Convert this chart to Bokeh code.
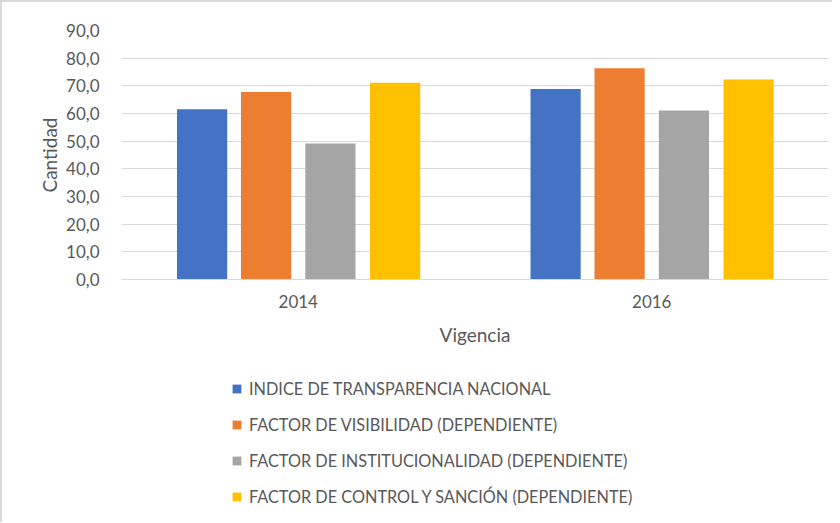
from bokeh.plotting import figure
from bokeh.layouts import column
from bokeh.models import ColumnDataSource, FactorRange, Legend, LegendItem, CustomJSTickFormatter
from bokeh.transform import dodge
from bokeh.embed import file_html
from bokeh.resources import INLINE

years = ["2014", "2016"]
series_names = [
    "INDICE DE TRANSPARENCIA NACIONAL",
    "FACTOR DE VISIBILIDAD (DEPENDIENTE)",
    "FACTOR DE INSTITUCIONALIDAD (DEPENDIENTE)",
    "FACTOR DE CONTROL Y SANCIÓN (DEPENDIENTE)",
]
indice = [61.5, 68.9]
visibilidad = [67.8, 76.4]
institucionalidad = [49.2, 61.1]
control = [71.1, 72.3]
colors = ["#4472C4", "#ED7D31", "#A5A5A5", "#FFC000"]
offsets = [-0.272, -0.091, 0.091, 0.274]

src = ColumnDataSource(data=dict(year=years, s0=indice, s1=visibilidad, s2=institucionalidad, s3=control))
keys = ["s0", "s1", "s2", "s3"]

FONT = "Lato"
TXT = "#595959"
BORDER = "2px solid #D9D9D9"

# ---- main chart ----
p = figure(x_range=FactorRange(*years), y_range=(0, 90), frame_width=705, frame_height=247,
           output_backend="svg", toolbar_location=None,
           min_border_left=119, min_border_right=6, min_border_top=28, min_border_bottom=85)
p.styles = {"border-left": BORDER, "border-top": BORDER}
p.outline_line_color = None

for i, key in enumerate(keys):
    p.vbar(x=dodge("year", offsets[i], range=p.x_range), top=key, width=0.142,
           source=src, fill_color=colors[i], line_color=None)

p.xgrid.grid_line_color = None
p.ygrid.grid_line_color = "#D9D9D9"
p.yaxis.ticker = list(range(0, 91, 10))
p.yaxis.formatter = CustomJSTickFormatter(code="return tick.toFixed(1).replace('.', ',');")
p.yaxis.axis_line_color = None
p.yaxis.major_tick_line_color = None
p.yaxis.minor_tick_line_color = None
p.yaxis.major_label_standoff = 16
p.yaxis.axis_label = "Cantidad"
p.yaxis.axis_label_standoff = 2

p.xaxis.axis_line_color = "#D9D9D9"
p.xaxis.major_tick_line_color = None
p.xaxis.minor_tick_line_color = None
p.xaxis.major_label_standoff = 9
p.xaxis.axis_label = "Vigencia"
p.xaxis.axis_label_standoff = 12

for ax in (p.xaxis, p.yaxis):
    ax.major_label_text_font = FONT
    ax.major_label_text_font_size = "17px"
    ax.major_label_text_color = TXT
    ax.axis_label_text_font = FONT
    ax.axis_label_text_font_size = "19px"
    ax.axis_label_text_font_style = "normal"
    ax.axis_label_text_color = TXT

# ---- legend panel (same series; zero-width bars outside its visible range) ----
lg = figure(x_range=FactorRange(*years), y_range=(1000, 1010), width=830, height=160,
            output_backend="svg", toolbar_location=None,
            x_axis_location=None, y_axis_location=None,
            min_border_left=0, min_border_right=0, min_border_top=0, min_border_bottom=0)
lg.styles = {"border-left": BORDER}
lg.outline_line_color = None
lg.grid.visible = False

leg_renderers = []
for i, key in enumerate(keys):
    r = lg.vbar(x=dodge("year", offsets[i], range=lg.x_range), top=key, width=0,
                source=src, fill_color=colors[i], line_color=None)
    leg_renderers.append(r)

legend = Legend(items=[LegendItem(label=series_names[i], renderers=[leg_renderers[i]]) for i in range(4)],
                orientation="vertical", location=(110, 16))
legend.glyph_width = 11
legend.glyph_height = 11
legend.label_height = 20
legend.spacing = 16
legend.label_standoff = 7
legend.padding = 0
legend.margin = 0
legend.border_line_color = None
legend.background_fill_alpha = 0
legend.label_text_font = FONT
legend.label_text_font_size = "16.3px"
legend.label_text_color = TXT
lg.add_layout(legend, "center")

layout = column(p, lg, spacing=0)

open("out.html", "w").write(file_html(layout, INLINE))
